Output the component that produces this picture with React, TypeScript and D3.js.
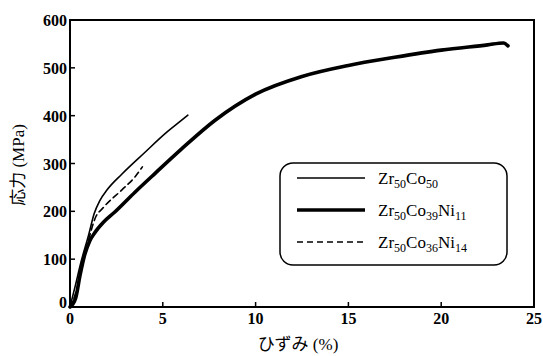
import * as d3 from "d3";
import React from "react";

// strain (%) / stress (MPa)
const co50Strain = [0, 0.27, 0.6, 1.0, 1.3, 1.6, 2.0, 2.8, 4.0, 5.2, 6.0, 6.35];
const co50Stress = [0, 42, 95, 150, 195, 222, 245, 278, 322, 365, 390, 401];

const ni11Strain = [0, 0.3, 0.55, 0.8, 1.05, 1.35, 1.8, 2.4, 3.5, 4.6, 6.0, 7.8, 10, 12.5, 15, 17.5, 20, 22.5, 23.35, 23.6];
const ni11Stress = [0, 18, 68, 110, 137, 156, 177, 198, 240, 280, 330, 390, 445, 482, 505, 522, 537, 548, 552, 546];

const ni14Strain = [0, 0.3, 0.6, 1.0, 1.35, 1.8, 2.8, 3.5, 3.9];
const ni14Stress = [0, 28, 75, 140, 185, 208, 245, 272, 293];

const xTicks = [0, 5, 10, 15, 20, 25];
const yTicks = [0, 100, 200, 300, 400, 500, 600];

const series = [
  { sub: [["Zr", "50"], ["Co", "50"]], x: co50Strain, y: co50Stress, width: 1.6, dash: "" },
  { sub: [["Zr", "50"], ["Co", "39"], ["Ni", "11"]], x: ni11Strain, y: ni11Stress, width: 3.6, dash: "" },
  { sub: [["Zr", "50"], ["Co", "36"], ["Ni", "14"]], x: ni14Strain, y: ni14Stress, width: 1.6, dash: "6,4" },
];

const W = 543, H = 356;
const left = 70, right = 534, top = 20, bottom = 307;
const serif = "'Liberation Serif', 'DejaVu Serif', serif";
const jp = "'Liberation Serif', 'Noto Sans CJK JP', serif";

export default function App() {
  const x = d3.scaleLinear().domain([0, 25]).range([left, right]);
  const y = d3.scaleLinear().domain([0, 600]).range([bottom, top]);

  const pathFor = (s: typeof series[number]) => {
    const pts = s.x.map((v, i) => [x(v), y(s.y[i])] as [number, number]);
    return d3.line<[number, number]>().x(d => d[0]).y(d => d[1]).curve(d3.curveMonotoneX)(pts) || "";
  };

  const legX = 280, legY = 163, legW = 227, legH = 102;
  const rowY = [178, 210, 242];

  return (
    <svg width={W} height={H} style={{ position: "absolute", left: 0, top: 0, background: "#fff" }}>
      <rect x={left} y={top} width={right - left} height={bottom - top} fill="none" stroke="#000" strokeWidth={2} />

      {xTicks.slice(1, -1).map(t => (
        <line key={"xt" + t} x1={x(t)} x2={x(t)} y1={bottom} y2={bottom - 5} stroke="#000" strokeWidth={1.5} />
      ))}
      {yTicks.slice(1, -1).map(t => (
        <line key={"yt" + t} x1={left} x2={left + 5} y1={y(t)} y2={y(t)} stroke="#000" strokeWidth={1.5} />
      ))}

      {xTicks.map(t => (
        <text key={"xl" + t} x={x(t)} y={324} textAnchor="middle" fontFamily={serif} fontWeight="bold" fontSize={16}>{t}</text>
      ))}
      {yTicks.map(t => (
        <text key={"yl" + t} x={67} y={t === 0 ? y(t) + 1 : y(t) + 6} textAnchor="end" fontFamily={serif} fontWeight="bold" fontSize={16}>{t}</text>
      ))}

      <text x={298} y={350} textAnchor="middle" fontFamily={jp} fontSize={17}>ひずみ (%)</text>
      <text transform="translate(24,165) rotate(-90)" textAnchor="middle" fontFamily={jp} fontSize={17}>応力 (MPa)</text>

      {series.map((s, i) => (
        <path key={"s" + i} d={pathFor(s)} fill="none" stroke="#000" strokeWidth={s.width}
          strokeDasharray={s.dash || undefined} strokeLinecap="round" strokeLinejoin="round" />
      ))}

      <rect x={legX} y={legY} width={legW} height={legH} rx={13} fill="#fff" stroke="#000" strokeWidth={1.5} />
      {series.map((s, i) => (
        <g key={"lg" + i}>
          <line x1={297} x2={365} y1={rowY[i]} y2={rowY[i]} stroke="#000" strokeWidth={s.width} strokeDasharray={s.dash || undefined} />
          <text x={378} y={rowY[i] + 6} fontFamily={serif} fontSize={17}>
            {s.sub.map(([el, n], j) => (
              <React.Fragment key={j}>
                <tspan dy={j === 0 ? 0 : -4}>{el}</tspan>
                <tspan fontSize={12} dy={4}>{n}</tspan>
              </React.Fragment>
            ))}
          </text>
        </g>
      ))}
    </svg>
  );
}
